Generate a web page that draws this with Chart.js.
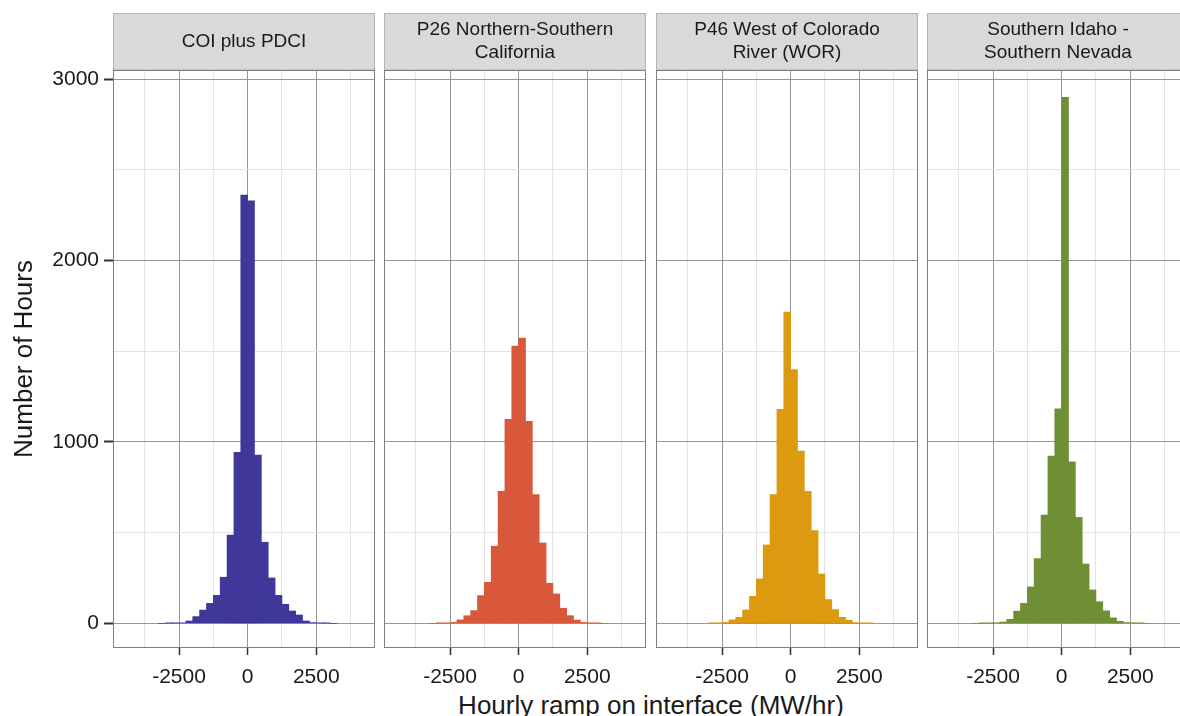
<!DOCTYPE html>
<html>
<head>
<meta charset="utf-8">
<script src="https://cdn.jsdelivr.net/npm/chart.js@4.4.1/dist/chart.umd.min.js"></script>
<style>
  html, body { margin: 0; padding: 0; background: #fff; width: 1180px; height: 716px; overflow: hidden; }
  body { position: relative; }
  canvas { position: absolute; }
  #xtitle {
    position: absolute; left: 351px; width: 600px; top: 690px;
    text-align: center; white-space: nowrap;
    font: 26px "Liberation Sans", Arial, sans-serif; line-height: 30px; color: #1a1a1a;
  }
</style>
</head>
<body>
<div id="xtitle">Hourly ramp on interface (MW/hr)</div>
<script>
// histogram bins are 250 MW/hr wide, these are the centres
const binCenters = [-3125, -2875, -2625, -2375, -2125, -1875, -1625, -1375, -1125, -875, -625, -375, -125,
                    125, 375, 625, 875, 1125, 1375, 1625, 1875, 2125, 2375, 2625, 2875, 3125];

const coiCounts = [0, 1, 1, 3, 13, 37, 73, 110, 154, 254, 487, 943, 2361,
                   2329, 927, 447, 250, 154, 105, 68, 46, 13, 4, 2, 1, 0];
const p26Counts = [0, 1, 2, 5, 19, 42, 70, 153, 226, 425, 728, 1124, 1528,
                   1572, 1114, 710, 443, 221, 162, 83, 42, 18, 5, 2, 1, 0];
const p46Counts = [0, 1, 2, 5, 19, 33, 74, 149, 245, 432, 710, 1179, 1715,
                   1398, 949, 728, 511, 272, 131, 76, 33, 17, 4, 2, 1, 0];
const idnvCounts = [0, 1, 1, 3, 7, 22, 67, 110, 201, 357, 597, 922, 1182,
                    2900, 890, 584, 327, 184, 119, 69, 30, 11, 4, 2, 1, 0];

const panelNames = [
  ['COI plus PDCI'],
  ['P26 Northern-Southern', 'California'],
  ['P46 West of Colorado', 'River (WOR)'],
  ['Southern Idaho -', 'Southern Nevada']
];
const panelCounts = [coiCounts, p26Counts, p46Counts, idnvCounts];
const panelColors = ['#40379a', '#d9573b', '#db9a0f', '#6f8f34'];

const xTicks = [-3750, -2500, -1250, 0, 1250, 2500, 3750];
const yTicks = [0, 500, 1000, 1500, 2000, 2500, 3000];

const FONT = '"Liberation Sans", Arial, sans-serif';
const MAJOR = '#969696';
const MINOR = '#e4e4e4';
Chart.defaults.font.family = FONT;

// panel geometry on the page
const panelLeft = [113, 384, 656, 927];
const panelW = 262;
const yAxisW = 113;
const stripH = 58;
const xAxisH = 68;
const canvasTop = 12;
const canvasH = 704;

// grey strip on top and border round the panel, like facet_wrap
const facetFrame = {
  id: 'facetFrame',
  afterDraw(chart, args, opts) {
    const { ctx, chartArea: a } = chart;
    ctx.save();
    ctx.fillStyle = '#d9d9d9';
    ctx.fillRect(a.left, 1, a.right - a.left, a.top - 1);
    ctx.strokeStyle = '#b3b3b3';
    ctx.lineWidth = 1;
    ctx.strokeRect(a.left + 0.5, 1.5, a.right - a.left - 1, a.top - 1.5);
    ctx.fillStyle = '#1a1a1a';
    ctx.font = '19px ' + FONT;
    ctx.textAlign = 'center';
    ctx.textBaseline = 'middle';
    const cx = (a.left + a.right) / 2;
    const mid = (1 + a.top) / 2;
    const lines = opts.lines;
    lines.forEach((t, i) => {
      ctx.fillText(t, cx, mid + (i - (lines.length - 1) / 2) * 23);
    });
    ctx.strokeStyle = '#7f7f7f';
    ctx.strokeRect(a.left + 0.5, a.top + 0.5, a.right - a.left - 1, a.bottom - a.top - 1);
    ctx.restore();
  }
};

const isMajorX = v => v % 2500 === 0;
const isMajorY = v => v % 1000 === 0;

panelNames.forEach((name, p) => {
  const first = p === 0;
  const axisW = first ? yAxisW : 0;
  const cv = document.createElement('canvas');
  const w = axisW + panelW + 2;
  cv.width = w;
  cv.height = canvasH;
  cv.style.left = (panelLeft[p] - axisW - 1) + 'px';
  cv.style.top = canvasTop + 'px';
  cv.style.width = w + 'px';
  cv.style.height = canvasH + 'px';
  document.body.appendChild(cv);

  const counts = panelCounts[p];
  new Chart(cv, {
    type: 'bar',
    data: {
      datasets: [{
        data: binCenters.map((x, i) => ({ x: x, y: counts[i] })),
        backgroundColor: panelColors[p],
        borderWidth: 0,
        barPercentage: 1,
        categoryPercentage: 1
      }]
    },
    options: {
      responsive: false,
      devicePixelRatio: 1,
      animation: false,
      layout: { padding: { top: stripH, left: 1, right: 1, bottom: 0 } },
      plugins: {
        legend: { display: false },
        tooltip: { enabled: false },
        facetFrame: { lines: name }
      },
      scales: {
        x: {
          type: 'linear',
          min: -4905,
          max: 4640,
          offset: false,
          afterBuildTicks: s => { s.ticks = xTicks.map(v => ({ value: v })); },
          afterFit: s => { s.height = xAxisH; },
          border: { display: false },
          grid: {
            offset: false,
            color: c => isMajorX(c.tick.value) ? MAJOR : MINOR,
            lineWidth: 1,
            tickLength: 7,
            tickWidth: 1.5,
            tickColor: c => isMajorX(c.tick.value) ? '#333' : 'rgba(0,0,0,0)'
          },
          ticks: {
            autoSkip: false,
            maxRotation: 0,
            padding: 10,
            color: '#1a1a1a',
            font: { size: 21 },
            callback: v => isMajorX(v) ? String(v) : ''
          }
        },
        y: {
          min: -136,
          max: 3050,
          afterBuildTicks: s => { s.ticks = yTicks.map(v => ({ value: v })); },
          afterFit: s => { s.width = axisW; },
          border: { display: false },
          grid: {
            color: c => isMajorY(c.tick.value) ? MAJOR : MINOR,
            lineWidth: 1,
            drawTicks: first,
            tickLength: 9,
            tickWidth: 2,
            tickColor: c => isMajorY(c.tick.value) ? '#333' : 'rgba(0,0,0,0)'
          },
          ticks: {
            display: first,
            autoSkip: false,
            padding: 5,
            color: '#1a1a1a',
            font: { size: 21 },
            callback: v => isMajorY(v) ? String(v) : ''
          },
          title: {
            display: first,
            text: 'Number of Hours',
            color: '#1a1a1a',
            font: { size: 26 },
            padding: { top: 9, bottom: 0 }
          }
        }
      }
    },
    plugins: [facetFrame]
  });
});
</script>
</body>
</html>
